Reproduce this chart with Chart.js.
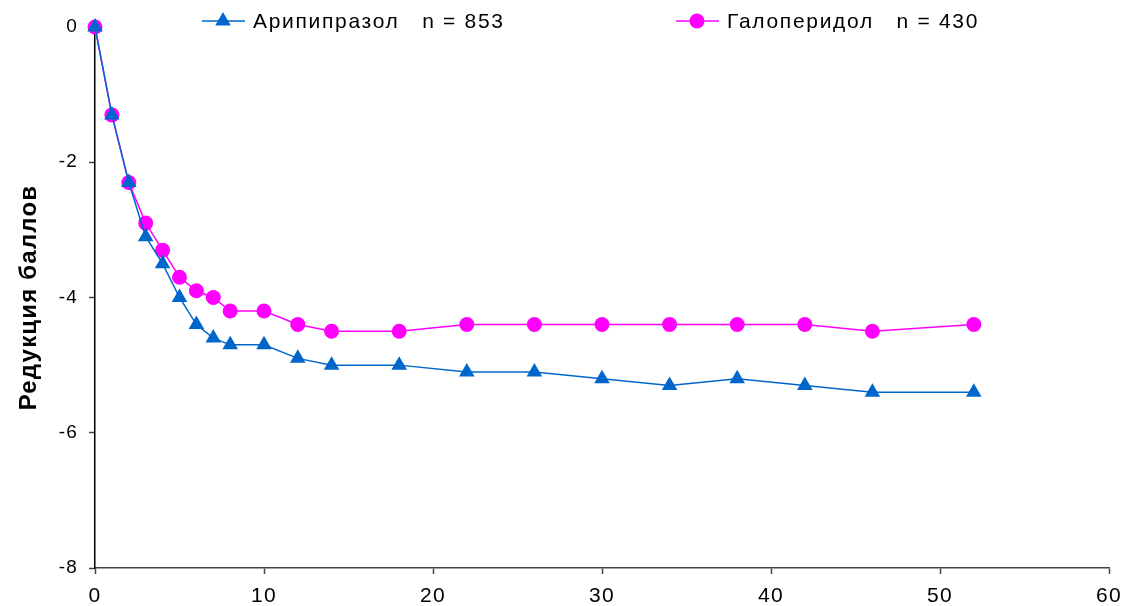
<!DOCTYPE html>
<html>
<head>
<meta charset="utf-8">
<script src="https://cdn.jsdelivr.net/npm/chart.js@4"></script>
<style>
  html, body { margin: 0; padding: 0; background: #fff; }
  #wrap { width: 1123px; height: 606px; }
</style>
</head>
<body>
<div id="wrap"><canvas id="chart" width="1123" height="606"></canvas></div>
<script>
// weeks
const weeks = [0, 1, 2, 3, 4, 5, 6, 7, 8, 10, 12, 14, 18, 22, 26, 30, 34, 38, 42, 46, 52];
const aripiprazole = [0, -1.3, -2.3, -3.1, -3.5, -4.0, -4.4, -4.6, -4.7, -4.7, -4.9, -5.0, -5.0, -5.1, -5.1, -5.2, -5.3, -5.2, -5.3, -5.4, -5.4];
const haloperidol = [0, -1.3, -2.3, -2.9, -3.3, -3.7, -3.9, -4.0, -4.2, -4.2, -4.4, -4.5, -4.5, -4.4, -4.4, -4.4, -4.4, -4.4, -4.4, -4.5, -4.4];
const seriesNames = ['Арипипразол   n = 853', 'Галоперидол   n = 430'];
const yTitle = 'Редукция баллов';

const BLUE = '#0066CC';
const MAGENTA = '#FF00FF';
const FONT = '"Liberation Sans", Arial, sans-serif';

const toPoints = (ys) => weeks.map((x, i) => ({ x: x, y: ys[i] }));

// the original text is a bit wide, spread the letters a little
const wideText = {
    id: 'wideText',
    beforeDraw(chart) {
        chart.ctx.letterSpacing = '1.2px';
    }
};

// legend drawn on top of the plot, like the original
const topLegend = {
    id: 'topLegend',
    afterDraw(chart) {
        const ctx = chart.ctx;
        const items = [
            { x: 202, ds: chart.data.datasets[0] },
            { x: 676, ds: chart.data.datasets[1] }
        ];
        const y = 21;
        ctx.save();
        items.forEach(it => {
            ctx.strokeStyle = it.ds.borderColor;
            ctx.fillStyle = it.ds.backgroundColor;
            ctx.lineWidth = 1.5;
            ctx.beginPath();
            ctx.moveTo(it.x, y);
            ctx.lineTo(it.x + 43, y);
            ctx.stroke();
            Chart.helpers.drawPoint(ctx, {
                pointStyle: it.ds.pointStyle,
                radius: it.ds.pointRadius,
                rotation: 0,
                borderWidth: 0
            }, it.x + 21, y);
            ctx.fillStyle = '#000';
            ctx.font = '21px ' + FONT;
            ctx.letterSpacing = '1.7px';
            ctx.textBaseline = 'middle';
            ctx.textAlign = 'left';
            ctx.fillText(it.ds.label, it.x + 51, y + 1);
        });
        ctx.restore();
    }
};

Chart.defaults.font.family = FONT;

new Chart(document.getElementById('chart'), {
    type: 'line',
    data: {
        datasets: [{
            label: seriesNames[0],
            data: toPoints(aripiprazole),
            borderColor: BLUE,
            backgroundColor: BLUE,
            pointStyle: 'triangle',
            pointRadius: 9,
            pointBorderWidth: 0,
            borderWidth: 1.5,
            clip: false
        }, {
            label: seriesNames[1],
            data: toPoints(haloperidol),
            borderColor: MAGENTA,
            backgroundColor: MAGENTA,
            pointStyle: 'circle',
            pointRadius: 7.5,
            pointBorderWidth: 0,
            borderWidth: 1.5,
            clip: false
        }]
    },
    options: {
        responsive: false,
        animation: false,
        layout: { padding: { left: 0, right: 14, top: 27, bottom: 0 } },
        plugins: {
            legend: { display: false },
            tooltip: { enabled: false }
        },
        scales: {
            x: {
                type: 'linear',
                min: 0,
                max: 60,
                ticks: { stepSize: 10, color: '#000', font: { size: 21 }, padding: 10 },
                grid: { drawOnChartArea: false, tickLength: 6, color: '#444', tickWidth: 1.5 },
                border: { color: '#444', width: 1.5 },
                afterFit(s) {
                    s.height = 38;
                    s.paddingLeft = 0;
                    s.paddingRight = 0;
                }
            },
            y: {
                min: -8,
                max: 0,
                ticks: { stepSize: 2, color: '#000', font: { size: 19 }, padding: 11 },
                grid: { drawOnChartArea: false, tickLength: 6, color: '#444', tickWidth: 1.5 },
                border: { color: '#000', width: 1.5 },
                title: {
                    display: true,
                    text: yTitle,
                    color: '#000',
                    font: { size: 24, weight: 'bold' },
                    padding: { top: 15, bottom: 0 }
                },
                afterFit(s) {
                    s.width = 95;
                    s.paddingTop = 0;
                    s.paddingBottom = 0;
                }
            }
        }
    },
    plugins: [wideText, topLegend]
});
</script>
</body>
</html>
